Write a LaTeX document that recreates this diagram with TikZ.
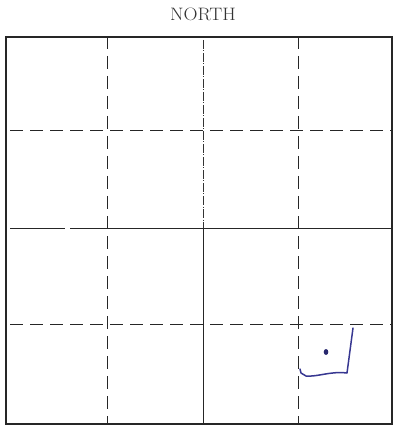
\documentclass[tikz,border=0pt]{standalone}
\begin{document}
\begin{tikzpicture}[x=1pt,y=-1pt,
  frame/.style={line width=1.8pt,black!85},
  dashline/.style={line width=1pt,black!85,dash pattern=on 13pt off 7pt},
  fineline/.style={line width=0.7pt,black!80,dash pattern=on 9pt off 1.5pt on 1pt off 1.5pt},
  solidline/.style={line width=1pt,black!85},
  pen/.style={line width=1.5pt,color={rgb,255:red,55;green,55;blue,145},line cap=round,line join=round}]
\useasboundingbox (0,0) rectangle (395,427);
\node[text=black!80] (title) at (203,14) {\fontsize{18}{20}\selectfont\scalebox{1.08}[1]{NORTH}};
% outer frame
\coordinate (tl) at (6,37);
\coordinate (br) at (392,424);
\draw[frame] (tl) rectangle (br);
% vertical lines
\coordinate (v1t) at (107,38); \coordinate (v1b) at (107,423);
\coordinate (v3t) at (298,38); \coordinate (v3b) at (298,423);
\draw[dashline,dash phase=2pt] (v1t) -- (v1b);
\draw[dashline,dash phase=2pt] (v3t) -- (v3b);
\coordinate (v2t) at (203,40); \coordinate (v2m) at (203,228); \coordinate (v2b) at (203,423);
\draw[fineline] (v2t) -- (v2m);
\draw[solidline] (v2m) -- (v2b);
% horizontal lines
\coordinate (h1l) at (7,131); \coordinate (h1r) at (391,131);
\coordinate (h3l) at (7,324); \coordinate (h3r) at (391,324);
\draw[dashline,dash phase=-3pt] (h1l) -- (h1r);
\draw[dashline,dash phase=-3pt] (h3l) -- (h3r);
\coordinate (h2a) at (10,228); \coordinate (h2b) at (65,228);
\coordinate (h2c) at (70,228); \coordinate (h2d) at (391,228);
\draw[solidline] (h2a) -- (h2b);
\draw[solidline] (h2c) -- (h2d);
% hand-drawn mark
\coordinate (p1) at (353,328);
\coordinate (p2) at (347,373);
\coordinate (p3) at (301,373);
\draw[pen] (p1) -- (p2) .. controls (330,371) and (318,377) .. (306,376) -- (p3) -- (300,369);
\fill[color={rgb,255:red,40;green,40;blue,110}] (326,352) ellipse (2.3pt and 3pt);
\end{tikzpicture}
\end{document}
